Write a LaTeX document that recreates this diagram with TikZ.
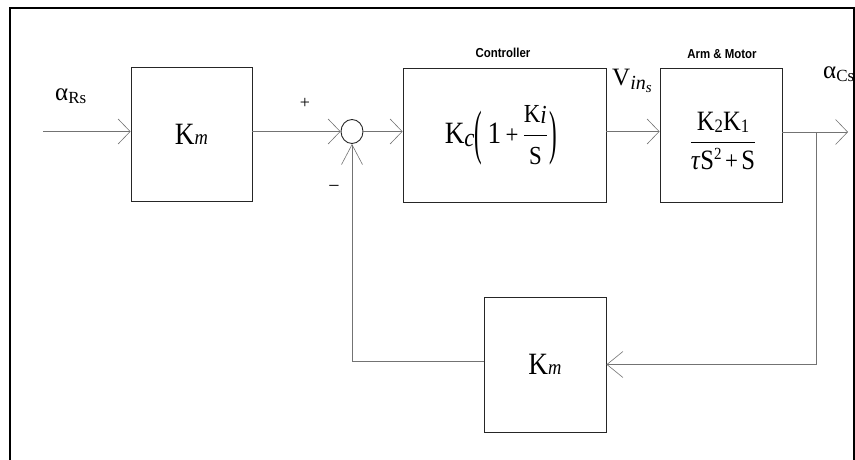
\RequirePackage{fix-cm}
\documentclass[tikz,border=0pt]{standalone}
\usepackage{amsmath}
\usepackage{graphicx}
\usepackage{fontspec}
\setmainfont{Liberation Serif}
\newfontfamily\headsans{Liberation Sans}
\usetikzlibrary{arrows.meta,shapes.geometric}

% font size shortcut
\newcommand{\setsz}[1]{\fontsize{#1}{#1}\selectfont}
% horizontally narrowed text
\newcommand{\narrow}[1]{\scalebox{0.88}[1]{#1}}
% tall thin parentheses
\newcommand{\tallparen}[1]{\raisebox{-9pt}{\scalebox{1}[2.3]{\setsz{26}#1}}}

\begin{document}
\begin{tikzpicture}[x=1pt,y=-1pt,
  blk/.style={draw=black!85, line width=0.9pt, inner sep=0pt},
  wire/.style={draw=black!55, line width=1pt},
  arr/.style={wire,-{Straight Barb[length=12pt,width=25pt,line width=0.6pt]}},
  arrup/.style={wire,-{Straight Barb[length=20pt,width=21pt,line width=0.6pt]}},
  arrfb/.style={wire,-{Straight Barb[length=16pt,width=26pt,line width=0.6pt]}},
  lbl/.style={inner sep=0pt},
  head/.style={inner sep=0pt, font=\headsans\bfseries\setsz{13}},
  frame/.style={draw=black, line width=2.6pt}
]
\useasboundingbox (0,0) rectangle (855,460);

% blocks
\node[blk, minimum width=121pt, minimum height=134pt] (km1) at (191.5,134)
  {\narrow{\setsz{31}K{\setsz{21}\itshape m}}\hspace{8pt}};
\node[blk, minimum width=203pt, minimum height=134pt] (ctrl) at (504.5,135) {};
\node[blk, minimum width=122pt, minimum height=134pt] (arm) at (721,135) {};
\node[blk, minimum width=122pt, minimum height=135pt] (fb) at (545,364.5)
  {\narrow{\setsz{31}K{\setsz{21}\itshape m}}\hspace{8pt}};
\node[draw=black!85, line width=0.9pt, ellipse, inner sep=0pt,
      minimum width=22pt, minimum height=24pt] (sum) at (352,131.5) {};

% transfer functions
\node[lbl] (ctrltf) at (501,135) {\narrow{\setsz{31}K\raisebox{-3pt}{\setsz{26}\itshape c}\tallparen{(}\hspace{6pt}1\hspace{5pt}{\setsz{26}+}\hspace{5pt}$\dfrac{\text{\setsz{26}K\raisebox{-1pt}{\textit{i}}}}{\text{\setsz{26}S}}$\hspace{2pt}\tallparen{)}}};
\node[lbl] (armtf) at (723,141) {\setsz{28}\narrow{$\dfrac{\text{K\raisebox{-2pt}{\setsz{19}2}K\raisebox{-2pt}{\setsz{19}1}}}{\text{\textit{τ}S\raisebox{10pt}{\setsz{17}2}\hspace{4pt}{\setsz{26}+}\hspace{4pt}S}}$}};

% titles and signal labels
\node[head] (ctrlname) at (503,53) {\narrow{Controller}};
\node[head] (armname) at (722,54) {\narrow{Arm \& Motor}};
\node[lbl, anchor=base west] (alR) at (55,101) {\setsz{25}α\raisebox{-2pt}{\setsz{17}Rs}};
\node[lbl] (plus) at (305,103) {\setsz{18}+};
\node[lbl] (minus) at (334,189) {\setsz{20}−};
\node[lbl, anchor=base west] (vin) at (612,86)
  {\setsz{25}V\raisebox{-3pt}{\setsz{20}\itshape in\raisebox{-3pt}{\setsz{15}s}}};
\begin{scope}
  \clip (0,0) rectangle (853,460);
  \node[lbl, anchor=base west] (alC) at (823,79) {\setsz{25}α\raisebox{-2pt}{\setsz{17}Cs}};
\end{scope}

% signal paths
\coordinate (in) at (43,131.5);
\coordinate (out) at (848,132);
\coordinate (br) at (816,132);
\draw[arr] (in) -- (in -| km1.west);
\draw[arr] (km1.east |- sum) -- (sum.west);
\draw[arr] (sum.east) -- (sum -| ctrl.west);
\draw[arr] (ctrl.east |- sum) -- (sum -| arm.west);
\draw[arr] (arm.east |- out) -- (out);
\draw[arrfb] (br) |- (fb.east);
\draw[arrup] ([yshift=3.5pt]fb.west) -| (sum.south);

% outer frame
\draw[frame] (10,460) -- (10,8) -- (854,8) -- (854,460);
\end{tikzpicture}
\end{document}
